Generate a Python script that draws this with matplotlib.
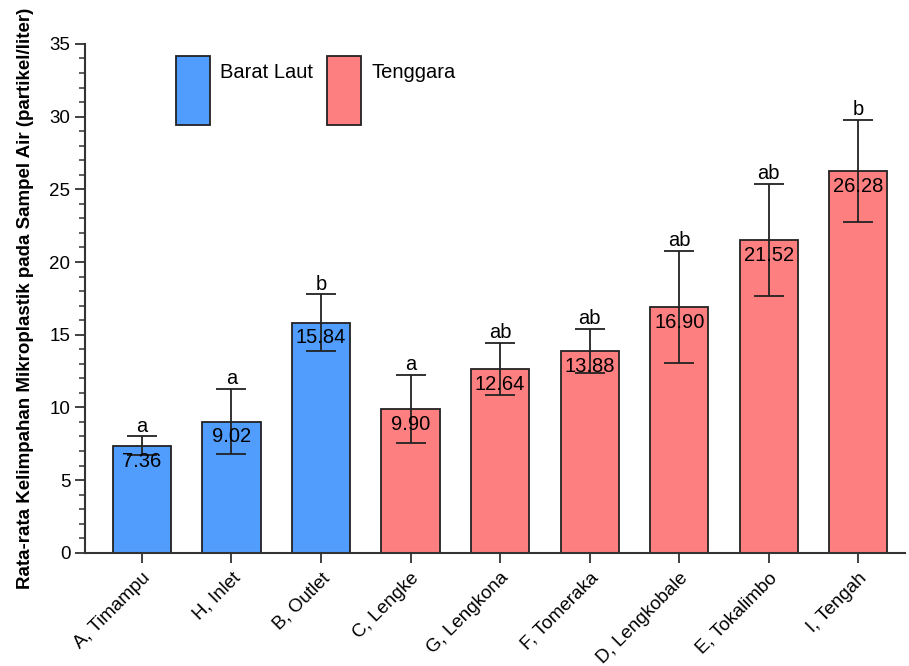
import numpy as np
import matplotlib.pyplot as plt
from matplotlib.patches import Rectangle
from matplotlib.ticker import MultipleLocator

plt.rcParams['font.family'] = ['Liberation Sans', 'DejaVu Sans']

lokasi = ['A, Timampu', 'H, Inlet', 'B, Outlet', 'C, Lengke', 'G, Lengkona',
          'F, Tomeraka', 'D, Lengkobale', 'E, Tokalimbo', 'I, Tengah']
rata = [7.36, 9.02, 15.84, 9.90, 12.64, 13.88, 16.90, 21.52, 26.28]
sd = [0.64, 2.25, 1.93, 2.34, 1.78, 1.53, 3.87, 3.85, 3.52]
notasi = ['a', 'a', 'b', 'a', 'ab', 'ab', 'ab', 'ab', 'b']
wilayah = ['Barat Laut'] * 3 + ['Tenggara'] * 6

warna = {'Barat Laut': '#519DFE', 'Tenggara': '#FE7F7F'}

fig = plt.figure(figsize=(9.09, 6.66), dpi=100)
ax = fig.add_axes([0.0935, 0.170, 0.902, 0.764])

x = np.arange(len(lokasi))
ax.bar(x, rata, width=0.65, color=[warna[w] for w in wilayah],
       edgecolor='#222222', linewidth=1.3, zorder=2)
ax.errorbar(x, rata, yerr=sd, fmt='none', ecolor='#222222', elinewidth=1.3,
            capsize=10.5, capthick=1.3, zorder=3)

# nilai rata-rata di dalam batang
for xi, v in zip(x, rata):
    ax.text(xi, v - 0.4, f'{v:.2f}', ha='center', va='top', fontsize=14.5, zorder=4)

# notasi huruf di atas error bar
for xi, v, s, n in zip(x, rata, sd, notasi):
    ax.text(xi, v + s + 0.05, n, ha='center', va='bottom', fontsize=14.5, zorder=4)

ax.set_xlim(-0.636, 8.52)
ax.set_ylim(0, 35)
ax.yaxis.set_major_locator(MultipleLocator(5))
ax.yaxis.set_minor_locator(MultipleLocator(1))
ax.set_xticks(x)
ax.set_xticklabels(lokasi, rotation=45, ha='right', rotation_mode='anchor', fontsize=13.5)
ax.tick_params(axis='y', labelsize=13.5, length=7, width=1.3, color='#333333')
ax.tick_params(axis='y', which='minor', length=4, width=1.1, color='#333333')
ax.tick_params(axis='x', length=7, width=1.3, color='#333333', pad=5)
for side in ['top', 'right']:
    ax.spines[side].set_visible(False)
for side in ['left', 'bottom']:
    ax.spines[side].set_linewidth(1.5)
    ax.spines[side].set_color('#333333')

ax.set_ylabel('Rata-rata Kelimpahan Mikroplastik pada Sampel Air (partikel/liter)',
              fontsize=13.5, fontweight='bold', labelpad=11)

# legenda kotak tinggi
for x0, w in [(0.111, 'Barat Laut'), (0.295, 'Tenggara')]:
    ax.add_patch(Rectangle((x0, 0.841), 0.042, 0.135, transform=ax.transAxes,
                           facecolor=warna[w], edgecolor='#222222', linewidth=1.3,
                           clip_on=False))
    ax.text(x0 + 0.054, 0.944, w, transform=ax.transAxes, fontsize=14.5,
            va='center', ha='left')

fig.savefig('out.png', dpi=100)
